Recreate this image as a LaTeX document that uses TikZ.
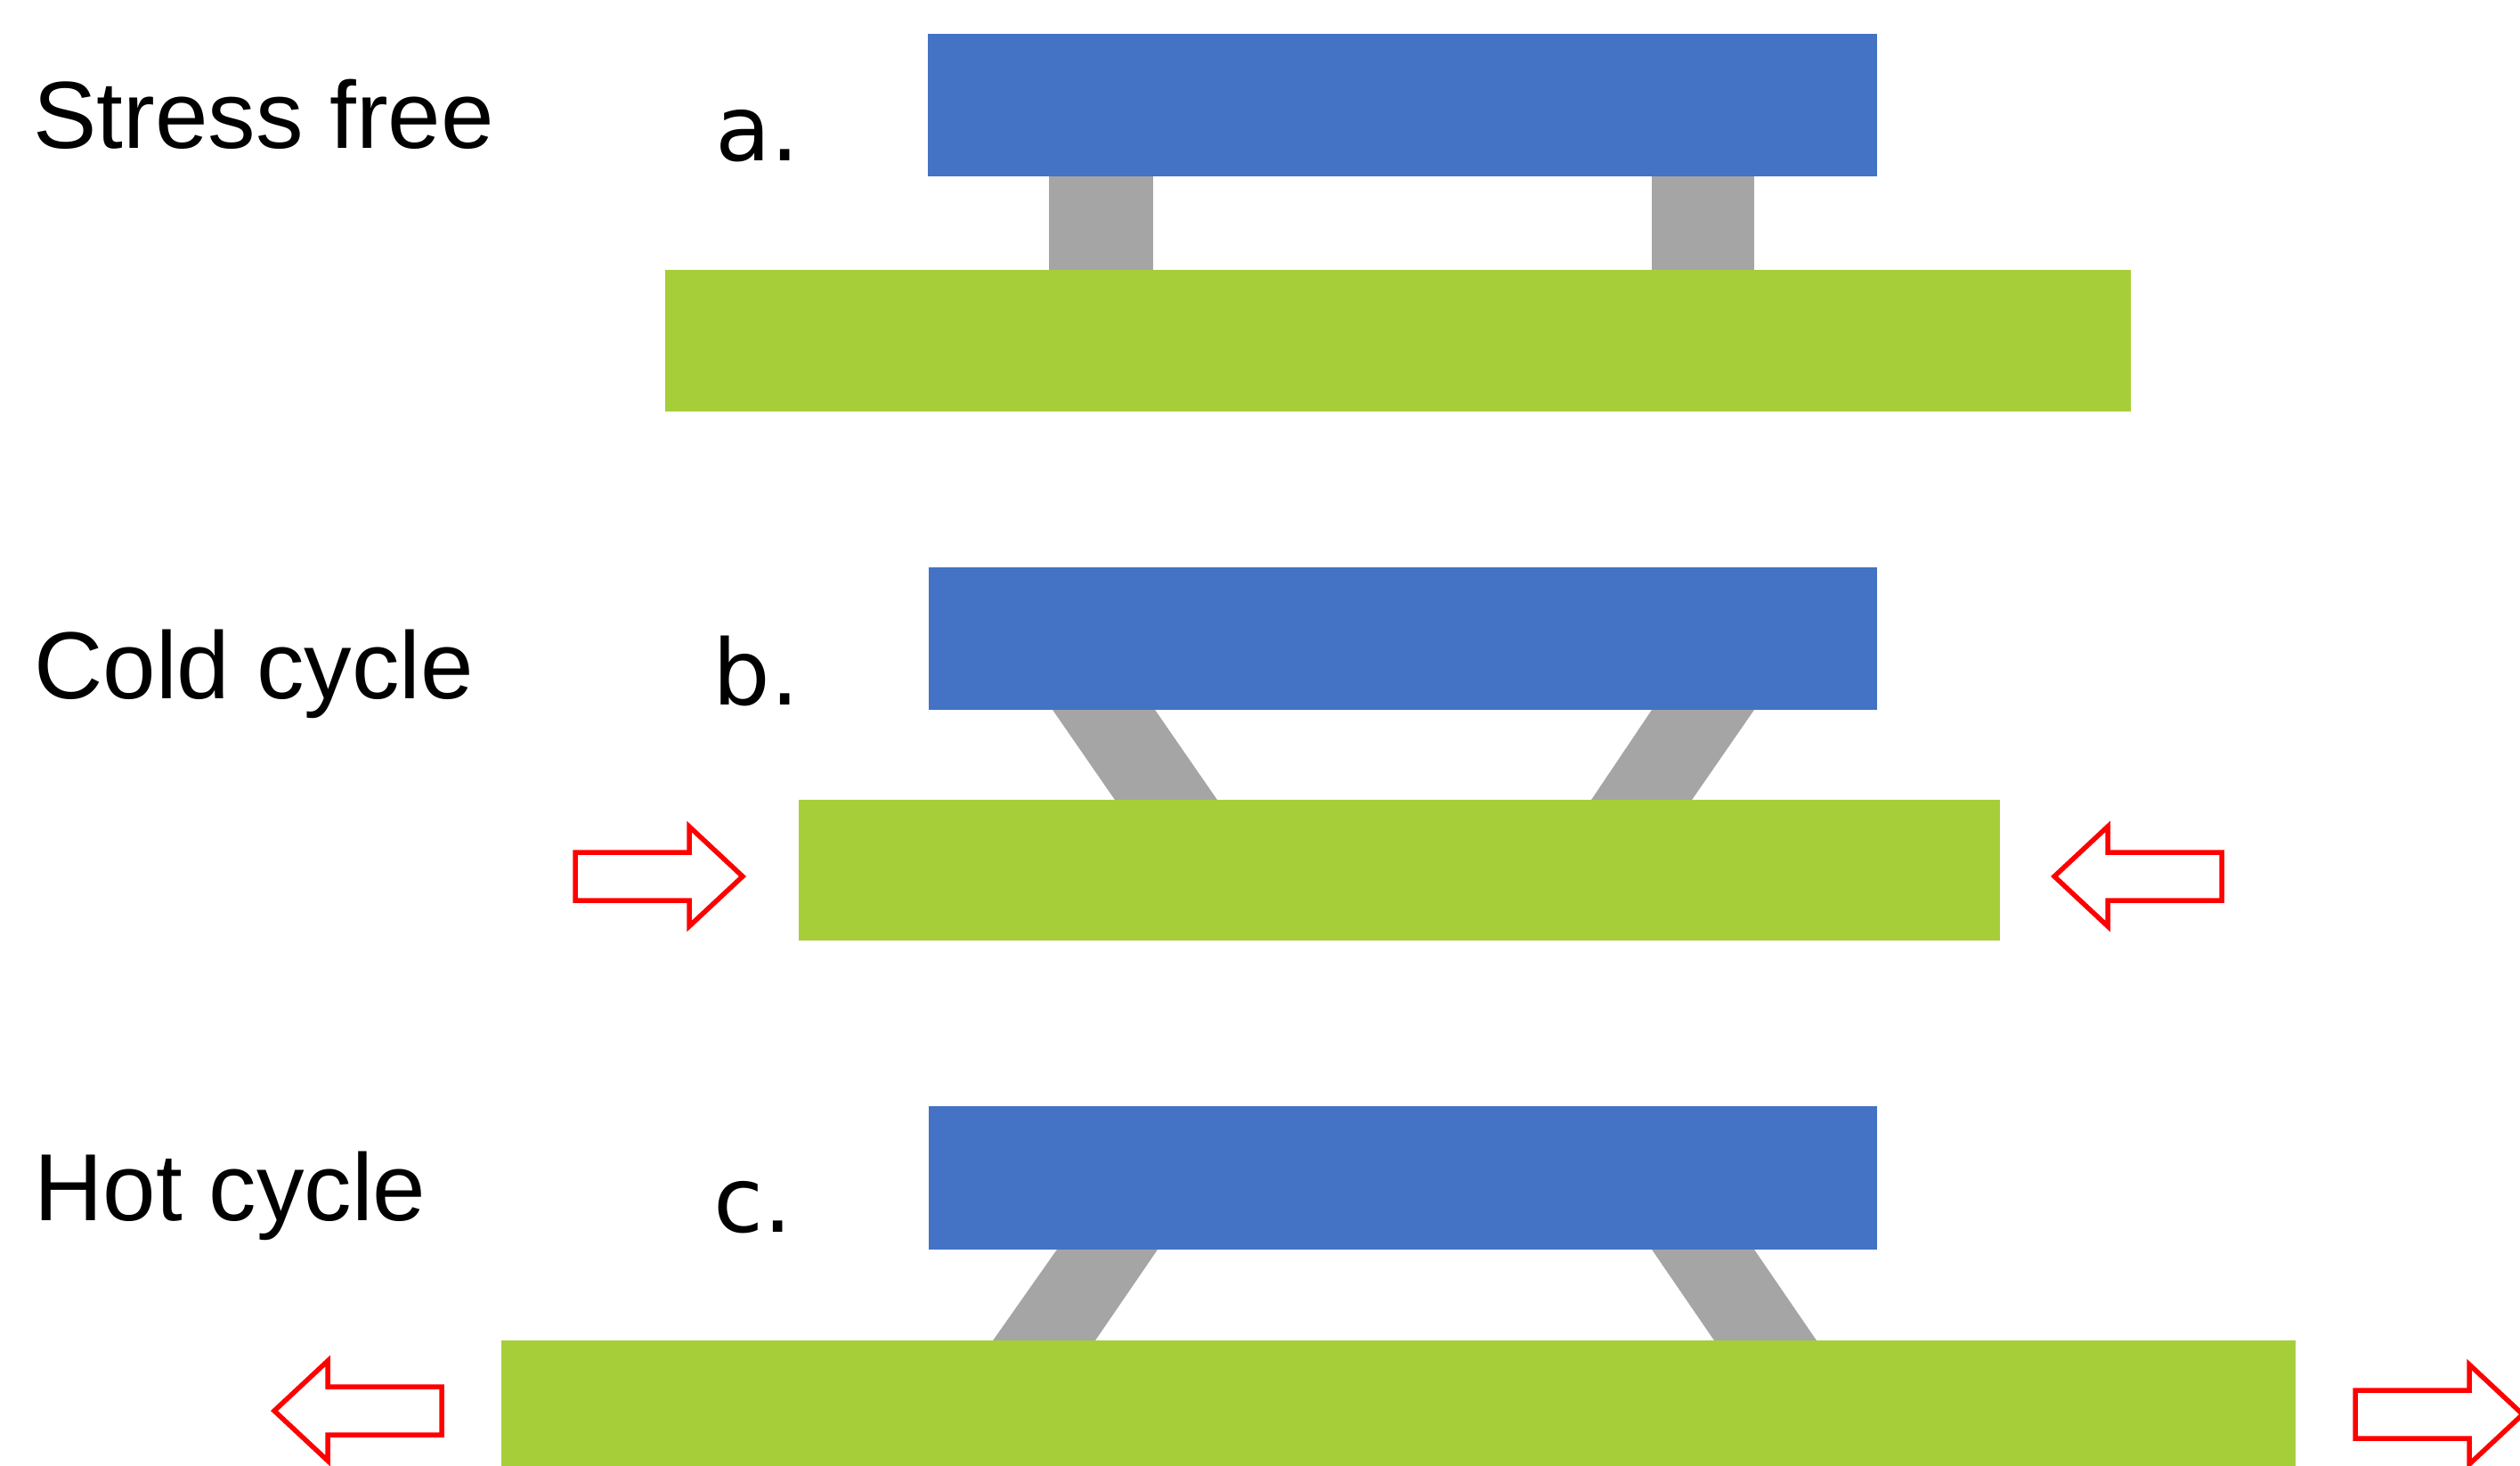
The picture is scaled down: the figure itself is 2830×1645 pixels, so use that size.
\documentclass[tikz,border=0pt]{standalone}
\usepackage{fontspec}
\setmainfont{Liberation Sans}
\newfontfamily\lblfont{DejaVu Sans}
\definecolor{topblue}{HTML}{4472C4}
\definecolor{subgreen}{HTML}{A6CE39}
\definecolor{pillargray}{HTML}{A5A5A5}
\tikzset{
  bluebar/.style={fill=topblue},
  greenbar/.style={fill=subgreen},
  pillar/.style={fill=pillargray},
  bigarrow/.style={draw=red, line width=2.75pt, miter limit=10, fill=white},
  rowlabel/.style={anchor=base west, inner sep=0pt, font=\fontsize{53.5}{60}\selectfont},
  letterlabel/.style={anchor=base west, inner sep=0pt, font=\lblfont\fontsize{51}{60}\selectfont}
}
% block arrow: #1 tail x (outer), #2 centre y, #3 direction (1 = right, -1 = left)
\newcommand{\bkarrow}[3]{%
  \begin{scope}[shift={(#1,#2)}, xscale=#3]
    \draw[bigarrow] (3,-27) -- (131,-27) -- (131,-56) -- (191,0) -- (131,56) -- (131,27) -- (3,27) -- cycle;
  \end{scope}}
\begin{document}
\begin{tikzpicture}[x=0.5pt, y=-0.5pt]
\useasboundingbox (0,0) rectangle (2830,1645);

% ---------- a. stress free ----------
\node[rowlabel] (ta) at (37,166) {Stress free};
\node[letterlabel] (la) at (803,180) {a.};
\fill[pillar] (1178,195) rectangle (1295,306);
\fill[pillar] (1855,195) rectangle (1970,306);
\fill[bluebar] (1042,38) rectangle (2108,198);
\fill[greenbar] (747,303) rectangle (2393,462);

% ---------- b. cold cycle ----------
\node[rowlabel] (tb) at (38,784) {Cold cycle};
\node[letterlabel] (lb) at (800,791) {b.};
\fill[pillar] (1180,794) -- (1295,794) -- (1369,901) -- (1254,901) -- cycle;
\fill[pillar] (1857,794) -- (1972,794) -- (1898,901) -- (1785,901) -- cycle;
\fill[bluebar] (1043,637) rectangle (2108,797);
\fill[greenbar] (897,898) rectangle (2246,1056);
\bkarrow{643}{984}{1}
\bkarrow{2498}{984}{-1}

% ---------- c. hot cycle ----------
\node[rowlabel] (tc) at (38,1370) {Hot cycle};
\node[letterlabel] (lc) at (801,1383) {c.};
\fill[pillar] (1189,1400) -- (1302,1400) -- (1228,1508) -- (1113,1508) -- cycle;
\fill[pillar] (1853,1400) -- (1968,1400) -- (2042,1508) -- (1927,1508) -- cycle;
\fill[bluebar] (1043,1242) rectangle (2108,1403);
\fill[greenbar] (563,1505) rectangle (2578,1660);
\bkarrow{499}{1584}{-1}
\bkarrow{2642}{1588}{1}
\end{tikzpicture}
\end{document}
